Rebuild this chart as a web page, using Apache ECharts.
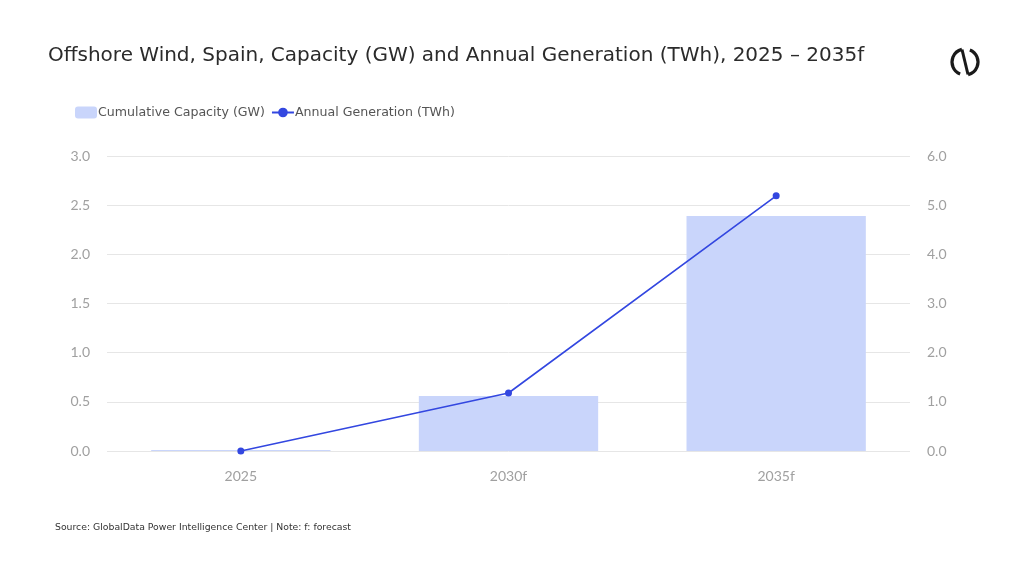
<!DOCTYPE html>
<html>
<head>
<meta charset="utf-8">
<script src="https://cdn.jsdelivr.net/npm/echarts@6/dist/echarts.min.js"></script>
<style>
  html, body { margin: 0; padding: 0; background: #fff; }
  #main { width: 1024px; height: 576px; }
</style>
</head>
<body>
<div id="main"></div>
<script>
// chart data
var categories = ['2025', '2030f', '2035f']
var capacity = [0.01, 0.56, 2.39]
var generation = [0.0, 1.18, 5.19]

var myChart = echarts.init(document.getElementById('main'))

var axisText = { color: '#a0a0a0', fontSize: 14, fontFamily: 'Lato' }
var deg = Math.PI / 180

var option = {
  backgroundColor: '#fff',
  textStyle: { fontFamily: 'DejaVu Sans' },
  title: {
    text: 'Offshore Wind, Spain, Capacity (GW) and Annual Generation (TWh), 2025 – 2035f',
    left: 43,
    top: 41,
    textStyle: { fontFamily: 'DejaVu Sans', fontSize: 20, fontWeight: 'normal', color: '#2b2b2b' }
  },
  legend: {
    left: 70,
    top: 101,
    itemGap: 6,
    itemWidth: 22,
    itemHeight: 12,
    textStyle: { color: '#555', fontSize: 12.6, fontFamily: 'DejaVu Sans', padding: [0, 0, 0, -4] },
    data: ['Cumulative Capacity (GW)', 'Annual Generation (TWh)']
  },
  grid: { left: 107, right: 114, top: 156, bottom: 125 },
  xAxis: {
    type: 'category',
    data: categories,
    axisLine: { show: false },
    axisTick: { show: false },
    axisLabel: Object.assign({ margin: 18 }, axisText)
  },
  yAxis: [
    {
      type: 'value',
      min: 0, max: 3, interval: 0.5,
      axisLabel: Object.assign({ margin: 17, formatter: function (v) { return v.toFixed(1) } }, axisText),
      splitLine: { lineStyle: { color: '#e6e6e6', width: 1 } },
      axisLine: { show: false }
    },
    {
      type: 'value',
      min: 0, max: 6, interval: 1,
      axisLabel: Object.assign({ margin: 17, formatter: function (v) { return v.toFixed(1) } }, axisText),
      splitLine: { show: false },
      axisLine: { show: false }
    }
  ],
  series: [
    {
      name: 'Cumulative Capacity (GW)',
      type: 'bar',
      data: capacity,
      barWidth: '67%',
      itemStyle: { color: '#c9d5fb' }
    },
    {
      name: 'Annual Generation (TWh)',
      type: 'line',
      yAxisIndex: 1,
      data: generation,
      symbol: 'circle',
      symbolSize: 7,
      lineStyle: { color: '#3347e0', width: 1.6 },
      itemStyle: { color: '#3347e0' }
    }
  ],
  graphic: [
    {
      type: 'text', left: 55, top: 523,
      style: { text: 'Source: GlobalData Power Intelligence Center | Note: f: forecast', fill: '#333', fontSize: 9.3, fontFamily: 'DejaVu Sans' }
    },
    // logo
    {
      type: 'arc', shape: { cx: 965, cy: 62, r: 13, startAngle: 112 * deg, endAngle: 256 * deg },
      style: { stroke: '#1a1a1a', lineWidth: 3.2, fill: null }
    },
    {
      type: 'arc', shape: { cx: 965, cy: 62, r: 13, startAngle: 292 * deg, endAngle: 436 * deg },
      style: { stroke: '#1a1a1a', lineWidth: 3.2, fill: null }
    },
    {
      type: 'line', shape: { x1: 962, y1: 49.5, x2: 968, y2: 74.5 },
      style: { stroke: '#1a1a1a', lineWidth: 3 }
    }
  ]
}

myChart.setOption(option)
</script>
</body>
</html>
